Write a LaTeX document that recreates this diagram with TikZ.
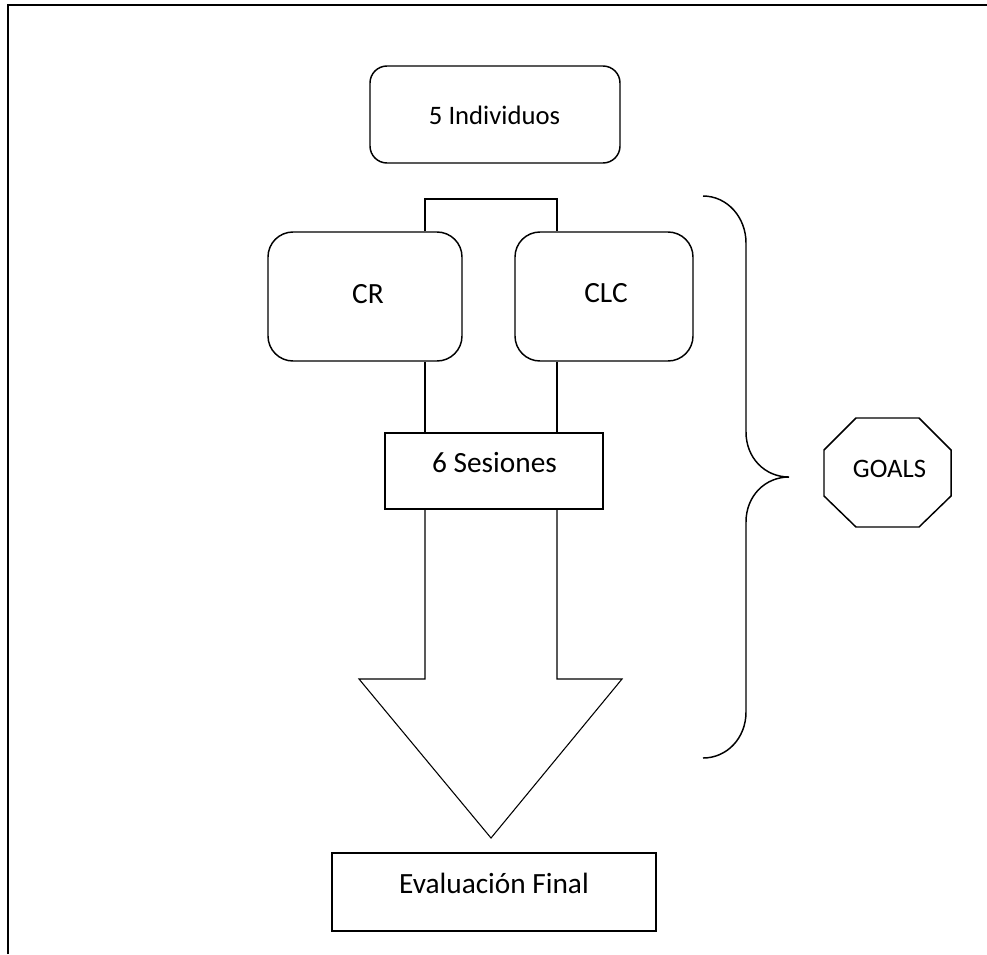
\documentclass[tikz,border=0pt]{standalone}
\usepackage{fontspec}
\setmainfont{Carlito}
\begin{document}
\begin{tikzpicture}[x=0.75pt,y=-0.75pt,
  line join=miter,
  rbox/.style={draw, line width=1.1pt, rounded corners=#1, inner sep=0pt},
  sbox/.style={draw, line width=1.1pt, inner sep=0pt, fill=white},
  bigtxt/.style={anchor=base, inner sep=0pt, font=\fontsize{22}{26}\selectfont},
  smalltxt/.style={anchor=base, inner sep=0pt, font=\fontsize{20}{24}\selectfont},
  conn/.style={line width=1.1pt},
  arrowshape/.style={line width=0.8pt, fill=white}
]
\useasboundingbox (0,0) rectangle (987,954);
% frame
\draw[line width=1.4pt] (8,954) -- (8,5) -- (987,5);

% boxes
\node[rbox=12.75pt, minimum width=187.5pt, minimum height=72.75pt] (ind) at (495,114.5) {};
\node[smalltxt] (indt) at (494.5,124) {5 Individuos};

\node[rbox=18.75pt, minimum width=145.5pt, minimum height=96.75pt] (cr) at (365,296.5) {};
\node[bigtxt] (crt) at (368,303) {CR};

\node[rbox=18.75pt, minimum width=133.5pt, minimum height=96.75pt] (clc) at (604,296.5) {};
\node[bigtxt] (clct) at (606,302) {CLC};

% guide coordinates for connector columns
\coordinate (colL) at (425,0);
\coordinate (colR) at (557,0);
\coordinate (bar) at (0,199);

% bracket joining CR and CLC
\draw[conn] (cr.north -| colL) -- (bar -| colL) -- (bar -| colR) -- (clc.north -| colR);

% block arrow
\coordinate (headL) at (359,679);
\coordinate (headR) at (622,679);
\coordinate (tip) at (491,838);
\draw[arrowshape] (425,509) -- (headL -| colL) -- (headL) -- (tip) -- (headR) -- (headR -| colR) -- (557,509);

\node[sbox, minimum width=163.5pt, minimum height=57pt] (ses) at (494,471) {};
\node[bigtxt] (sest) at (494.5,472) {6 Sesiones};

% lines CR/CLC -> 6 Sesiones
\draw[conn] (cr.south -| colL) -- (ses.north -| colL);
\draw[conn] (clc.south -| colR) -- (ses.north -| colR);

\node[sbox, minimum width=243pt, minimum height=58.5pt] (eva) at (494,892) {};
\node[bigtxt] (evat) at (494,893) {Evaluación Final};

% brace
\draw[conn] (703,196) .. controls (727,196) and (746,217) .. (746,243) -- (746,432)
  .. controls (746,458) and (765,477) .. (789,477)
  .. controls (765,477) and (746,496) .. (746,522) -- (746,712)
  .. controls (746,738) and (727,758) .. (703,758);

% octagon
\draw[conn] (856,418) -- (919,418) -- (951,450) -- (951,496) -- (919,527) -- (856,527) -- (824,496) -- (824,450) -- cycle;
\node[smalltxt] (goals) at (889.5,477) {GOALS};
\end{tikzpicture}
\end{document}
